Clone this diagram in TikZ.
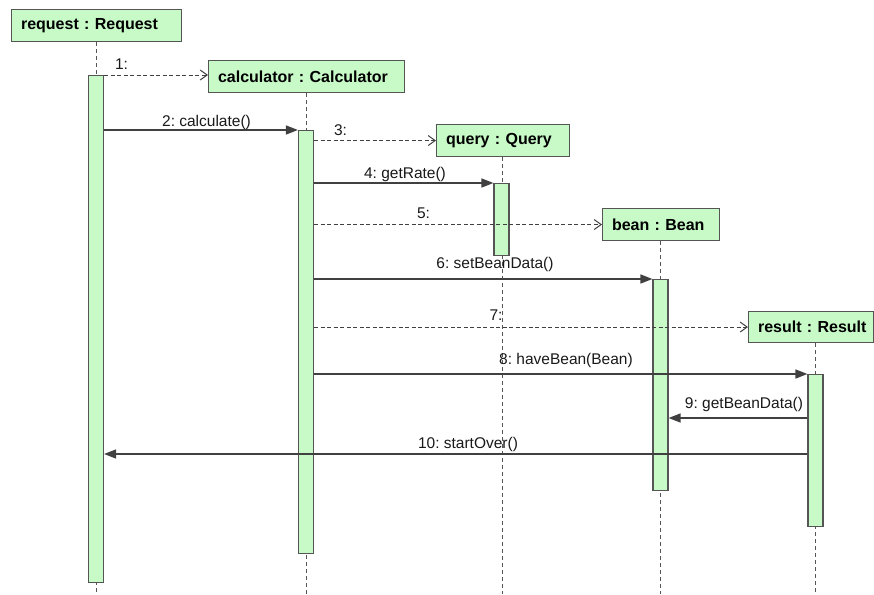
\documentclass[tikz,border=0pt]{standalone}
\usepackage{fontspec}
\setmainfont{Liberation Sans}
\usetikzlibrary{arrows.meta}
\frenchspacing
\definecolor{actfill}{RGB}{200,250,200}
\definecolor{edge}{RGB}{85,85,85}
\definecolor{ink}{RGB}{64,64,64}
\tikzset{
  obj/.style={draw=edge, line width=1.1pt, fill=actfill, anchor=north west,
    minimum height=32pt, inner xsep=9.5pt, inner ysep=0pt, align=left,
    font=\fontsize{16}{18}\selectfont\bfseries},
  act/.style={draw=edge, line width=1.1pt, fill=actfill, anchor=north,
    minimum width=15pt, inner sep=0pt},
  life/.style={draw=edge, line width=0.9pt, dash pattern=on 4pt off 3pt},
  call/.style={draw=ink, line width=1.4pt, -{Triangle[length=12pt,width=9pt]}},
  create/.style={draw=ink, line width=1pt, dash pattern=on 4pt off 2.5pt,
    -{Straight Barb[length=7pt,width=10pt,line width=1pt]}},
  msg/.style={anchor=base, inner sep=0pt, text=black!90,
    font=\fontsize{15.5}{18}\selectfont},
}
\begin{document}
\begin{tikzpicture}[x=1pt,y=-1pt]
\useasboundingbox (0,0) rectangle (874,594);

% object heads
\node[obj, text width=151pt] (req) at (11,9) {\mbox{request : Request}};
\node[obj, text width=177pt] (calc) at (208,60) {\mbox{calculator : Calculator}};
\node[obj, text width=114pt] (query) at (436,124) {\mbox{query : Query}};
\node[obj, text width=98pt] (bean) at (602,208) {\mbox{bean : Bean}};
\node[obj, text width=106pt, minimum height=31pt] (res) at (748,311) {\mbox{result : Result}};

% bottom ends of the lifelines
\coordinate (floor) at (0,594);
\coordinate (xReq) at (96,0);
\coordinate (xCalc) at (306,0);
\coordinate (xQuery) at (502,0);
\coordinate (xBean) at (660.5,0);
\coordinate (xRes) at (815.5,0);

% lifelines
\draw[life] (req.south -| xReq) -- (xReq |- floor);
\draw[life] (calc.south -| xCalc) -- (xCalc |- floor);
\draw[life] (query.south -| xQuery) -- (xQuery |- floor);
\draw[life] (bean.south -| xBean) -- (xBean |- floor);
\draw[life] (res.south -| xRes) -- (xRes |- floor);

% activation bars
\node[act, minimum height=507pt] (aReq) at (96,75) {};
\node[act, minimum height=423pt] (aCalc) at (306,130) {};
\node[act, minimum height=72pt] (aQuery) at (501.5,183) {};
\node[act, minimum height=211pt] (aBean) at (660.5,279) {};
\node[act, minimum height=152pt] (aRes) at (815.5,374) {};

% levels of the return-side messages
\coordinate (y9) at (0,418);
\coordinate (y10) at (0,454);

% messages
\draw[create] (aReq.north east) -- (aReq.north east -| calc.west);
\node[msg] (l1) at (121.5,70) {1:};

\draw[call] (aReq.east |- aCalc.north) -- (aCalc.north west);
\node[msg] (l2) at (206.5,126) {2: calculate()};

\draw[create] (aCalc.east |- query.west) -- (query.west);
\node[msg] (l3) at (340.5,135.5) {3:};

\draw[call] (aCalc.east |- aQuery.north) -- (aQuery.north west);
\node[msg] (l4) at (405,178.5) {4: getRate()};

\draw[create] (aCalc.east |- bean.west) -- (bean.west);
\node[msg] (l5) at (423.5,218) {5:};

\draw[call] (aCalc.east |- aBean.north) -- (aBean.north west);
\node[msg] (l6) at (495,268) {6: setBeanData()};

\draw[create] (aCalc.east |- res.west) -- (res.west);
\node[msg] (l7) at (496,320) {7:};

\draw[call] (aCalc.east |- aRes.north) -- (aRes.north west);
\node[msg] (l8) at (566,364) {8: haveBean(Bean)};

\draw[call] (aRes.west |- y9) -- (aBean.east |- y9);
\node[msg] (l9) at (744,408) {9: getBeanData()};

\draw[call] (aRes.west |- y10) -- (aReq.east |- y10);
\node[msg] (l10) at (468,448.5) {10: startOver()};
\end{tikzpicture}
\end{document}
